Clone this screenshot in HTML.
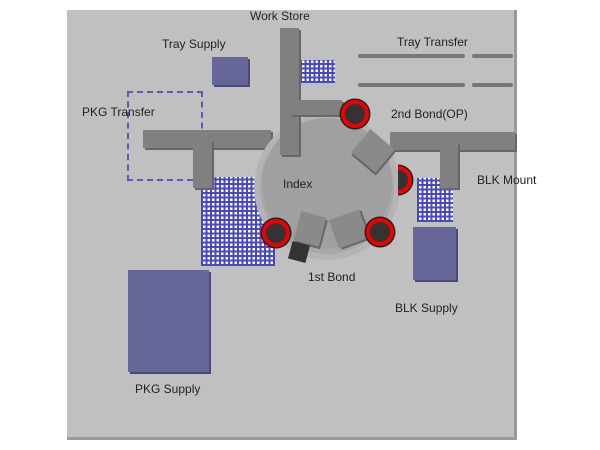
<!DOCTYPE html>
<html><head><style>
body{margin:0;width:600px;height:450px;background:#fff;position:relative;overflow:hidden;font-family:"Liberation Sans",sans-serif;}
div{position:absolute;box-sizing:border-box;}
.t{font-size:12px;color:#222;white-space:nowrap;}
.bar{background:#808080;box-shadow:2px 2px 0 #666;}
.grid{background-color:#ffffff;background-image:repeating-linear-gradient(0deg,#4848c0 0 2px,transparent 2px 4.5px),repeating-linear-gradient(90deg,#4848c0 0 2px,transparent 2px 4.5px);}
.box{background:#666699;box-shadow:2px 2px 0 #4a4a78;}
.rc{width:28px;height:28px;border-radius:50%;background:#333;border:4px solid #e00;box-shadow:0 0 0 1.5px #222;}
.tb{background:#777;height:4px;border-radius:2px;}
</style></head><body>
<div style="left:67px;top:10px;width:450px;height:430px;background:#c0c0c0;border-right:3px solid #999;border-bottom:3px solid #999;"></div>

<div class="tb" style="left:358px;top:54px;width:107px"></div>
<div class="tb" style="left:472px;top:54px;width:41px"></div>
<div class="tb" style="left:358px;top:83px;width:107px"></div>
<div class="tb" style="left:472px;top:83px;width:41px"></div>

<div class="box" style="left:212px;top:57px;width:36px;height:28px"></div>
<div class="grid" style="left:300px;top:60px;width:35px;height:23px"></div>

<div style="left:127px;top:91px;width:76px;height:90px;border:2px dashed #5a5ab0;"></div>

<div class="grid" style="left:201px;top:177px;width:74px;height:89px"></div>
<div class="grid" style="left:417px;top:178px;width:36px;height:44px"></div>
<div class="box" style="left:413px;top:227px;width:43px;height:53px"></div>
<div class="box" style="left:128px;top:270px;width:81px;height:102px"></div>

<div class="bar" style="left:143px;top:130px;width:128px;height:18px"></div>
<div class="bar" style="left:193px;top:140px;width:19px;height:48px"></div>
<div class="bar" style="left:390px;top:132px;width:125px;height:18px"></div>
<div class="bar" style="left:440px;top:142px;width:18px;height:46px"></div>

<div style="left:260px;top:120px;width:134px;height:134px;border-radius:50%;background:#a8a8a8;box-shadow:0 0 0 6px #b4b4b4;"></div>
<div style="left:262px;top:118px;width:130px;height:130px;border-radius:50%;background:#a0a0a0;"></div>
<div class="bar" style="left:357px;top:136px;width:32px;height:30px;transform:rotate(40deg);background:#8a8a8a"></div>
<div class="bar" style="left:297px;top:214px;width:26px;height:30px;transform:rotate(15deg);background:#8a8a8a"></div>
<div class="bar" style="left:333px;top:214px;width:32px;height:30px;transform:rotate(-20deg);background:#8a8a8a"></div>
<div style="left:290px;top:243px;width:18px;height:18px;background:#333;transform:rotate(15deg)"></div>

<div class="bar" style="left:280px;top:28px;width:19px;height:127px"></div>
<div class="bar" style="left:290px;top:100px;width:52px;height:15px"></div>

<div class="rc" style="left:341px;top:100px"></div>
<div class="rc" style="left:384px;top:166px;clip-path:inset(-3px -3px -3px 14px)"></div>
<div class="rc" style="left:262px;top:219px"></div>
<div class="rc" style="left:366px;top:218px"></div>

<div class="t" style="left:250px;top:9px">Work Store</div>
<div class="t" style="left:162px;top:37px">Tray Supply</div>
<div class="t" style="left:397px;top:35px">Tray Transfer</div>
<div class="t" style="left:82px;top:105px">PKG Transfer</div>
<div class="t" style="left:391px;top:107px">2nd Bond(OP)</div>
<div class="t" style="left:283px;top:177px">Index</div>
<div class="t" style="left:477px;top:173px">BLK Mount</div>
<div class="t" style="left:308px;top:270px">1st Bond</div>
<div class="t" style="left:395px;top:301px">BLK Supply</div>
<div class="t" style="left:135px;top:382px">PKG Supply</div>
</body></html>
